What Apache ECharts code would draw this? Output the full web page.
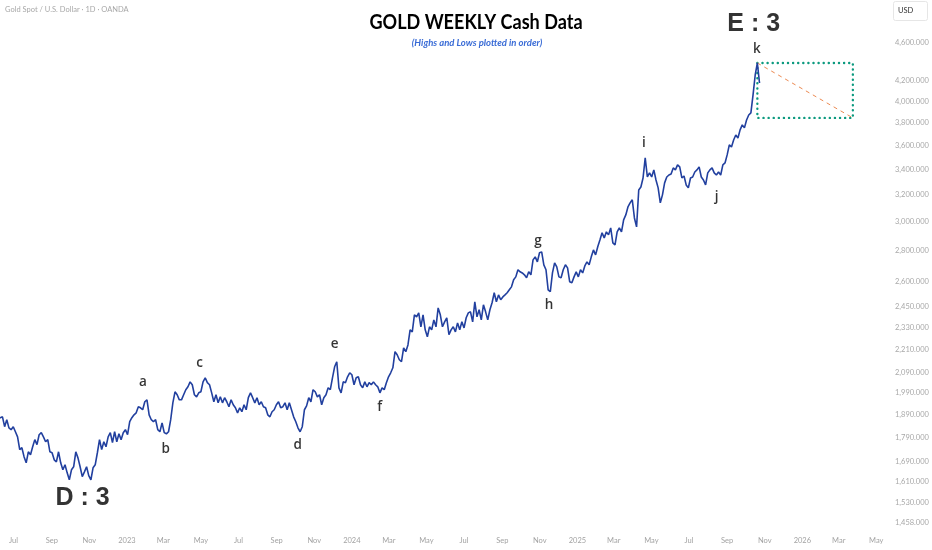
<!DOCTYPE html>
<html>
<head>
<meta charset="utf-8">
<script src="https://cdn.jsdelivr.net/npm/echarts@6/dist/echarts.min.js"></script>
<style>
html,body{margin:0;padding:0;background:#fff;}
#chart{width:932px;height:550px;}
</style>
</head>
<body>
<div id="chart"></div>
<script>
// Weekly highs and lows plotted in order (two points per week), starting week of 2022-06-06
const firstWeek = '2022-06-06';
const prices = [
1876,1876,1880,1836,1867,1831,1823,1836,1814,1792,1738,1746,1709,1684,1729,1717,1750,1780,1759,1801,
1810,1792,1771,1780,1729,1725,1696,1688,1729,1684,1656,1676,1644,1617,1656,1668,1729,1704,1668,1629,
1648,1668,1633,1617,1664,1676,1725,1780,1738,1771,1750,1792,1810,1767,1814,1771,1805,1780,1810,1823,
1801,1858,1876,1889,1898,1926,1921,1912,1949,1958,1889,1867,1858,1867,1823,1814,1853,1810,1805,1814,
1867,1944,1996,1982,1958,1958,1982,2006,2020,2044,2030,1982,1972,1991,1996,2044,2064,2040,2030,1991,
1949,1982,1944,1972,1944,1968,1949,1926,1958,1935,1921,1898,1921,1903,1935,1912,1968,1991,1968,1944,
1968,1935,1949,1926,1921,1889,1880,1903,1912,1935,1949,1921,1926,1944,1912,1944,1912,1880,1858,1831,
1814,1836,1912,1930,1968,1949,2006,1996,1972,1982,1935,1968,1982,2015,2006,2064,2119,2145,2015,1991,
2044,2040,2069,2089,2079,2030,2064,2069,2030,2015,2044,2020,2040,2030,2044,2030,2020,1991,2015,2006,
2040,2069,2089,2114,2197,2181,2155,2145,2217,2197,2233,2315,2304,2400,2388,2411,2332,2400,2315,2277,
2332,2315,2371,2332,2440,2400,2332,2360,2383,2288,2315,2332,2304,2354,2315,2360,2326,2383,2411,2417,
2360,2476,2388,2429,2371,2458,2417,2371,2429,2470,2530,2476,2517,2488,2505,2517,2530,2548,2566,2610,
2628,2673,2660,2653,2641,2622,2660,2641,2737,2757,2724,2784,2790,2705,2673,2548,2536,2653,2718,2692,
2628,2622,2673,2705,2685,2597,2591,2628,2660,2628,2673,2653,2698,2724,2705,2757,2803,2770,2824,2871,
2920,2885,2927,2906,2955,2851,2837,2927,2955,2927,3012,3048,3107,3137,3161,3026,2962,3236,3259,3330,
3494,3338,3371,3338,3395,3314,3252,3137,3198,3291,3338,3354,3362,3411,3395,3436,3419,3330,3346,3275,
3252,3330,3338,3378,3395,3419,3338,3314,3275,3371,3395,3411,3371,3354,3378,3354,3436,3452,3519,3604,
3587,3647,3691,3665,3736,3781,3754,3826,3872,3891,4062,4261,4385,4180
];

// Wave labels: text, date, price (placement of the text)
const waveNames  = ['a','b','c','d','e','f','g','h','i','j','k'];
const waveDates  = ['2023-01-27','2023-03-05','2023-04-29','2023-10-05','2023-12-04','2024-02-15','2024-10-29','2024-11-16','2025-04-19','2025-08-15','2025-10-19'];
const wavePrices = [2044,1742,2140,1755,2239,1926,2865,2458,3621,3183,4535];

const degreeNames  = ['D : 3','E : 3'];
const degreeDates  = ['2022-10-21','2025-10-14'];
const degreePrices = [1549,4814];

// Projection box from the k top
const boxDates  = ['2025-10-20','2026-03-24'];
const boxPrices = [4385,3845];

const yTicks = [4600,4200,4000,3800,3600,3400,3200,3000,2800,2600,2450,2330,2210,2090,1990,1890,1790,1690,1610,1530,1458];
const xTicks = ['2022-07-01','2022-09-01','2022-11-01','2023-01-01','2023-03-01','2023-05-01','2023-07-01','2023-09-01','2023-11-01',
'2024-01-01','2024-03-01','2024-05-01','2024-07-01','2024-09-01','2024-11-01','2025-01-01','2025-03-01','2025-05-01','2025-07-01',
'2025-09-01','2025-11-01','2026-01-01','2026-03-01','2026-05-01'];
const monthNames = ['Jan','Feb','Mar','Apr','May','Jun','Jul','Aug','Sep','Oct','Nov','Dec'];

const ts = s => Date.parse(s + 'T00:00:00Z');
const t0 = ts(firstWeek);
const halfWeek = 3.5 * 86400000;
const lineData = prices.map((p, i) => [t0 + i * halfWeek, p]);

const chart = echarts.init(document.getElementById('chart'), null, {renderer: 'canvas'});
chart.setOption({
  animation: false,
  backgroundColor: '#ffffff',
  grid: {left: 0, right: 44, top: 0, bottom: 20, containLabel: false},
  xAxis: {
    type: 'value',
    min: ts('2022-06-09'),
    max: ts('2026-05-20'),
    axisLine: {show: false},
    axisTick: {show: false},
    splitLine: {show: false},
    axisLabel: {
      customValues: xTicks.map(ts),
      color: '#a3a3a3',
      fontSize: 7.5,
      fontFamily: 'Lato, sans-serif',
      margin: 7,
      formatter: function (v) {
        const d = new Date(v);
        return d.getUTCMonth() === 0 ? String(d.getUTCFullYear()) : monthNames[d.getUTCMonth()];
      }
    }
  },
  yAxis: {
    type: 'log',
    logBase: 10,
    position: 'right',
    min: 1433.8,
    max: 5098.6,
    axisLine: {show: false},
    axisTick: {show: false},
    splitLine: {show: false},
    axisLabel: {
      customValues: yTicks,
      color: '#a8a8a8',
      fontSize: 7.5,
      fontFamily: 'Lato, sans-serif',
      margin: 7,
      formatter: function (v) {
        return Math.round(v).toLocaleString('en-US') + '.000';
      }
    }
  },
  graphic: [
    {type: 'text', left: 5, top: 6, style: {text: 'Gold Spot / U.S. Dollar · 1D · OANDA', fill: '#a8a8a8', font: '7.5px Lato, sans-serif'}},
    {type: 'text', x: 476, y: 22, scaleX: 0.86, style: {text: 'GOLD WEEKLY Cash Data', fill: '#000000', font: 'bold 21px Lato, sans-serif', align: 'center', verticalAlign: 'middle'}},
    {type: 'text', x: 477, y: 43, style: {text: '(Highs and Lows plotted in order)', fill: '#3a6cd6', font: 'italic bold 9.5px Lato, sans-serif', align: 'center', verticalAlign: 'middle'}},
    {type: 'rect', shape: {x: 893.5, y: 1.5, width: 34, height: 19, r: 2}, style: {fill: '#ffffff', stroke: '#e6e6e6', lineWidth: 1}},
    {type: 'text', x: 898, y: 11, style: {text: 'USD', fill: '#333333', font: '7.5px Lato, sans-serif', verticalAlign: 'middle'}}
  ],
  series: [
    {
      type: 'line',
      name: 'box',
      data: [
        [ts(boxDates[0]), boxPrices[0]], [ts(boxDates[1]), boxPrices[0]],
        [ts(boxDates[1]), boxPrices[1]], [ts(boxDates[0]), boxPrices[1]],
        [ts(boxDates[0]), boxPrices[0]]
      ],
      symbol: 'none',
      lineStyle: {color: '#0c9a7f', width: 2.4, type: [0.1, 5], cap: 'round'},
      silent: true,
      z: 1
    },
    {
      type: 'line',
      name: 'diag',
      data: [[ts(boxDates[0]), boxPrices[0]], [ts(boxDates[1]), boxPrices[1]]],
      symbol: 'none',
      lineStyle: {color: '#ec8a52', width: 1, type: [4, 4]},
      silent: true,
      z: 1
    },
    {
      type: 'line',
      name: 'Gold',
      data: lineData,
      symbol: 'none',
      lineStyle: {color: '#22409f', width: 1.6},
      silent: true,
      z: 3
    },
    {
      type: 'scatter',
      name: 'waves',
      symbolSize: 1,
      itemStyle: {color: 'rgba(0,0,0,0)'},
      data: waveNames.map((n, i) => ({name: n, value: [ts(waveDates[i]), wavePrices[i]]})),
      label: {show: true, position: 'inside', formatter: '{b}', color: '#000', textBorderWidth: 0, fontSize: 13.5, fontWeight: 600, fontFamily: 'Open Sans, sans-serif'},
      silent: true,
      z: 4
    },
    {
      type: 'scatter',
      name: 'degree',
      symbolSize: 1,
      itemStyle: {color: 'rgba(0,0,0,0)'},
      data: degreeNames.map((n, i) => ({name: n, value: [ts(degreeDates[i]), degreePrices[i]]})),
      label: {show: true, position: 'inside', formatter: '{b}', color: '#000', textBorderWidth: 0, fontSize: 25, fontWeight: 'bold', fontFamily: 'Liberation Sans, sans-serif'},
      silent: true,
      z: 4
    }
  ]
});
</script>
</body>
</html>
